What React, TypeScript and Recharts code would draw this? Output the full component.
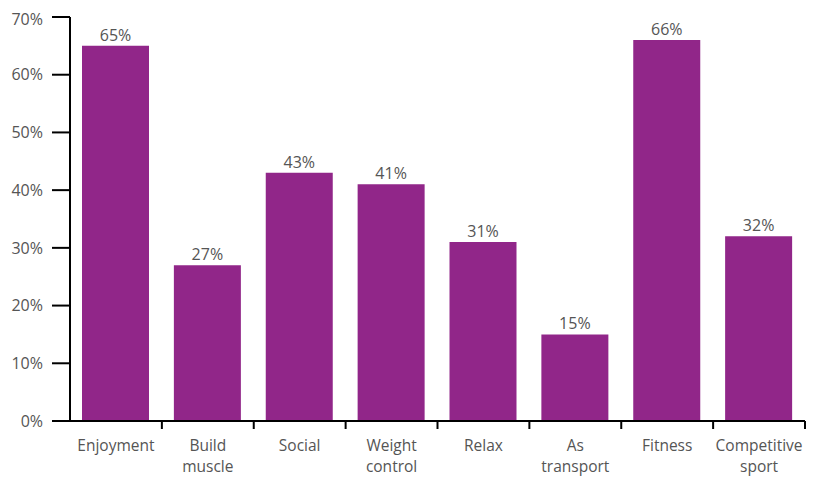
import { BarChart, Bar, XAxis, YAxis, LabelList } from 'recharts';

const categories = ['Enjoyment', 'Build\nmuscle', 'Social', 'Weight\ncontrol', 'Relax', 'As\ntransport', 'Fitness', 'Competitive\nsport'];
const shares = [65, 27, 43, 41, 31, 15, 66, 32];
const yTicks = [0, 10, 20, 30, 40, 50, 60, 70];

const data = categories.map((c, i) => ({ name: c, value: shares[i] }));

const FONT = '"Open Sans", sans-serif';
const TEXT = '#555555';

const CategoryTick = ({ x, y, payload }: any) => {
  const lines = String(payload.value).split('\n');
  const half = payload.offset ?? 0;
  return (
    <g>
      <line x1={x + half} x2={x + half} y1={y - 8} y2={y} stroke="#000" strokeWidth={2} />
      <text x={x} y={y + 22} textAnchor="middle" fill={TEXT} fontSize={15.5} fontFamily={FONT}>
        {lines.map((l, i) => (
          <tspan key={i} x={x} dy={i === 0 ? 0 : 21}>{l}</tspan>
        ))}
      </text>
    </g>
  );
};

export default function App() {
  return (
    <div style={{ width: 806, height: 469 }}>
      <BarChart width={806} height={469} data={data} margin={{ top: 9, right: 9, left: 0, bottom: 0 }}>
        <XAxis
          dataKey="name"
          height={56}
          tickLine={false}
          axisLine={{ stroke: '#000', strokeWidth: 2 }}
          tick={<CategoryTick />}
          interval={0}
        />
        <YAxis
          width={62}
          domain={[0, 70]}
          ticks={yTicks}
          tickFormatter={(v) => `${v}%`}
          tickSize={18}
          tickMargin={9}
          tickLine={{ stroke: '#000', strokeWidth: 2 }}
          axisLine={{ stroke: '#000', strokeWidth: 2 }}
          tick={{ fill: TEXT, fontSize: 16, fontFamily: FONT }}
        />
        <Bar dataKey="value" fill="#912689" barSize={67} isAnimationActive={false}>
          <LabelList
            dataKey="value"
            position="top"
            offset={5}
            formatter={(v: any) => `${v}%`}
            style={{ fill: TEXT, fontSize: 16, fontFamily: FONT }}
          />
        </Bar>
      </BarChart>
    </div>
  );
}
